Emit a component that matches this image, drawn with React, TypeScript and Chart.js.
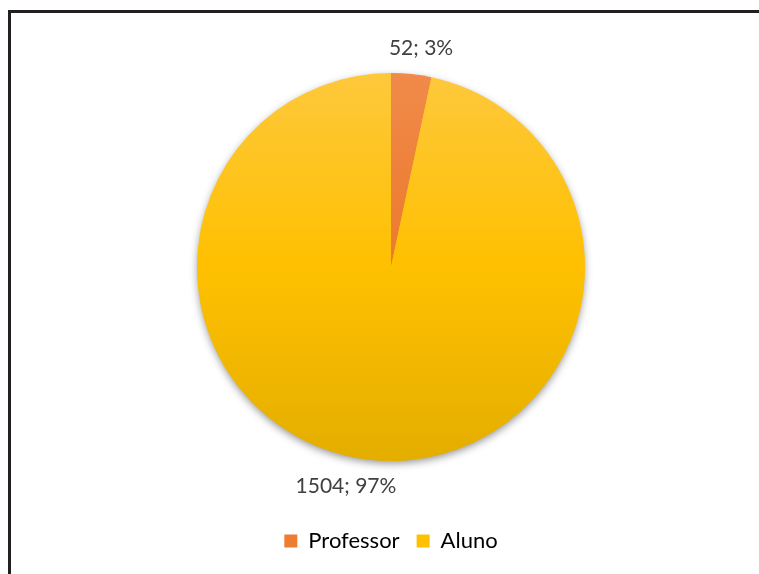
import React, { useEffect, useRef } from "react";
import { Chart, registerables } from "chart.js";

Chart.register(...registerables);

const categories = ["Professor", "Aluno"];
const values = [52, 1504];
const labelDx = [7, -22];

const FONT = "Lato, 'Open Sans', sans-serif";

const shadowPlugin = {
  id: "pieShadow",
  beforeDatasetsDraw(chart: any) {
    const meta = chart.getDatasetMeta(0);
    const arc = meta.data[0];
    if (!arc) return;
    const { x, y, outerRadius } = arc.getProps(["x", "y", "outerRadius"], true);
    const ctx = chart.ctx;
    ctx.save();
    ctx.shadowColor = "rgba(0,0,0,0.45)";
    ctx.shadowBlur = 9;
    ctx.shadowOffsetY = 3;
    ctx.beginPath();
    ctx.arc(x, y, outerRadius - 1, 0, Math.PI * 2);
    ctx.fillStyle = "#f0b800";
    ctx.fill();
    ctx.restore();
  },
};

const labelPlugin = {
  id: "pieLabels",
  afterDatasetsDraw(chart: any) {
    const ctx = chart.ctx;
    const meta = chart.getDatasetMeta(0);
    const data = chart.data.datasets[0].data as number[];
    const total = data.reduce((a, b) => a + b, 0);
    ctx.save();
    ctx.font = `21px ${FONT}`;
    ctx.fillStyle = "#404040";
    ctx.textAlign = "center";
    ctx.textBaseline = "middle";
    meta.data.forEach((arc: any, i: number) => {
      const { x, y, startAngle, endAngle, outerRadius } = arc.getProps(
        ["x", "y", "startAngle", "endAngle", "outerRadius"],
        true
      );
      const mid = (startAngle + endAngle) / 2;
      const r = outerRadius + 26;
      const px = x + Math.cos(mid) * r + labelDx[i];
      const py = y + Math.sin(mid) * r;
      const pct = Math.round((data[i] / total) * 100);
      ctx.fillText(`${data[i]}; ${pct}%`, px, py);
    });
    ctx.restore();
  },
};

function gradient(ctx: any, stops: [number, string][], fallback: string) {
  const chart = ctx.chart;
  const area = chart.chartArea;
  if (!area) return fallback;
  const meta = chart.getDatasetMeta(0);
  const arc = meta.data[0];
  let top = area.top;
  let bottom = area.bottom;
  if (arc && arc.outerRadius) {
    top = arc.y - arc.outerRadius;
    bottom = arc.y + arc.outerRadius;
  }
  const g = chart.ctx.createLinearGradient(0, top, 0, bottom);
  stops.forEach(([o, c]) => g.addColorStop(o, c));
  return g;
}

export default function App() {
  const ref = useRef<HTMLCanvasElement>(null);
  useEffect(() => {
    if (!ref.current) return;
    const chart = new Chart(ref.current, {
      type: "pie",
      data: {
        labels: categories,
        datasets: [
          {
            data: values,
            backgroundColor: (c: any) =>
              c.dataIndex === 0
                ? gradient(c, [[0, "#F28E52"], [0.5, "#EB7A2C"], [1, "#D4661C"]], "#ED7D31")
                : gradient(c, [[0, "#FEC83C"], [0.5, "#FFC000"], [1, "#E4AE00"]], "#FFC000"),
            borderWidth: 0,
          } as any,
        ],
      },
      options: {
        animation: false,
        responsive: false,
        radius: 194,
        layout: { padding: { top: 21, bottom: 12, left: 23, right: 0 } },
        plugins: {
          legend: {
            position: "bottom",
            labels: {
              boxWidth: 13,
              boxHeight: 13,
              padding: 17,
              color: "#595959",
              font: { size: 22, family: FONT },
              generateLabels: (chart: any) =>
                chart.data.labels.map((l: string, i: number) => ({
                  text: l,
                  fillStyle: i === 0 ? "#ED7D31" : "#FFC000",
                  strokeStyle: "rgba(0,0,0,0)",
                  lineWidth: 0,
                  index: i,
                  hidden: false,
                })),
            },
          },
          tooltip: { enabled: false },
        },
      } as any,
      plugins: [shadowPlugin, labelPlugin],
    });
    return () => chart.destroy();
  }, []);
  return (
    <div
      style={{
        position: "absolute",
        left: 0,
        top: 0,
        width: 759,
        height: 574,
        background: "#fff",
        overflow: "hidden",
      }}
    >
      <div
        style={{
          position: "absolute",
          left: 8,
          top: 10,
          width: 800,
          height: 700,
          border: "3px solid #231f20",
          boxSizing: "border-box",
        }}
      />
      <canvas
        ref={ref}
        width={759}
        height={574}
        style={{ position: "absolute", left: 0, top: 0, width: 759, height: 574 }}
      />
    </div>
  );
}
